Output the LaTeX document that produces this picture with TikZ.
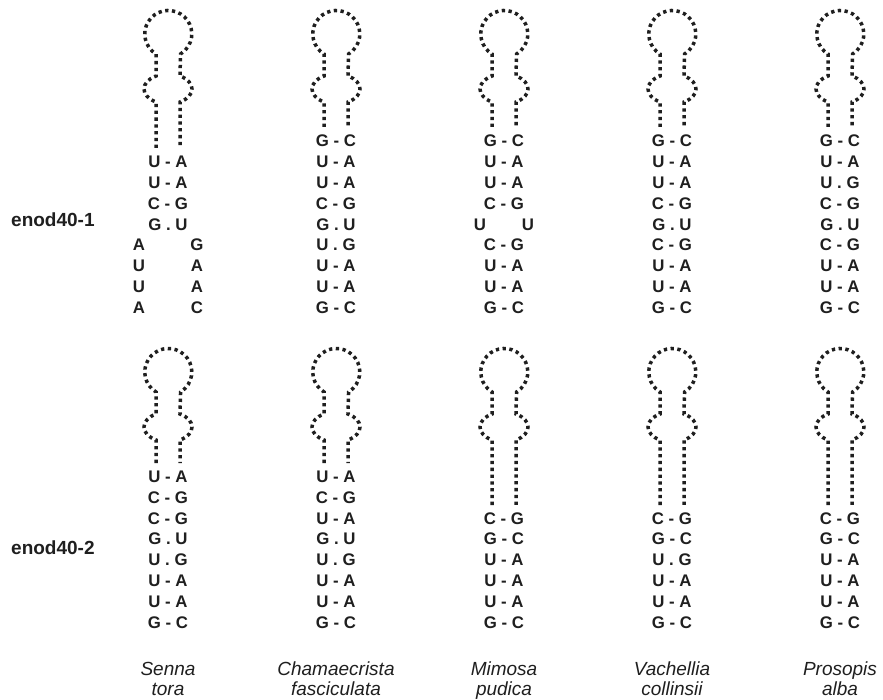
\documentclass[tikz,border=0pt]{standalone}
\usepackage{fontspec}
\setmainfont{Liberation Sans}
\newcommand\hpin[3]{%
  \draw[dotline] (#1-12,#3) -- (#1-12,#2+92)
    .. controls (#1-28,#2+86) and (#1-28,#2+72) .. (#1-12,#2+66)
    -- (#1-12,#2+44) arc[start angle=121.5,end angle=418.5,radius=23.5]
    -- (#1+12,#2+66)
    .. controls (#1+28,#2+72) and (#1+28,#2+86) .. (#1+12,#2+92)
    -- (#1+12,#3);}
\begin{document}
\begin{tikzpicture}[x=1pt,y=-1pt,
  dotline/.style={line width=3.5pt, dash pattern=on 3.3pt off 3.5pt, color=black!88},
  pair/.style={font=\bfseries\fontsize{16.8}{18}\selectfont, text=black!88, inner sep=0pt, text height=12pt, text depth=0pt, anchor=center},
  lab/.style={font=\bfseries\fontsize{19}{20}\selectfont, text=black!88, inner sep=0pt, anchor=west},
  species/.style={font=\itshape\fontsize{19}{20}\selectfont, text=black!88, inner sep=0pt, anchor=base}]
\useasboundingbox (0,0) rectangle (883,700);

% ---------------- enod40-1 ----------------
\node[lab] (lab1) at (11,220) {enod40-1};
\hpin{168}{10}{148}
\hpin{336}{10}{127}
\hpin{504}{10}{127}
\hpin{672}{10}{127}
\hpin{840}{10}{127}

% Senna tora
\foreach \t [count=\k from 1] in {U - A, U - A, C - G, G . U}
  \node[pair] (a1r\k) at (168,141+20.8*\k) {\t};
\node[pair] (a1r5l) at (139,141+20.8*5) {A};
\node[pair] (a1r5r) at (197,141+20.8*5) {G};
\node[pair] (a1r6l) at (139,141+20.8*6) {U};
\node[pair] (a1r6r) at (197,141+20.8*6) {A};
\node[pair] (a1r7l) at (139,141+20.8*7) {U};
\node[pair] (a1r7r) at (197,141+20.8*7) {A};
\node[pair] (a1r8l) at (139,141+20.8*8) {A};
\node[pair] (a1r8r) at (197,141+20.8*8) {C};

% Chamaecrista
\foreach \t [count=\k from 0] in {G - C, U - A, U - A, C - G, G . U, U . G, U - A, U - A, G - C}
  \node[pair] (a2r\k) at (336,141+20.8*\k) {\t};

% Mimosa
\foreach \t [count=\k from 0] in {G - C, U - A, U - A, C - G}
  \node[pair] (a3r\k) at (504,141+20.8*\k) {\t};
\node[pair] (a3r4l) at (480,141+20.8*4) {U};
\node[pair] (a3r4r) at (528,141+20.8*4) {U};
\foreach \t [count=\k from 5] in {C - G, U - A, U - A, G - C}
  \node[pair] (a3r\k) at (504,141+20.8*\k) {\t};

% Vachellia
\foreach \t [count=\k from 0] in {G - C, U - A, U - A, C - G, G . U, C - G, U - A, U - A, G - C}
  \node[pair] (a4r\k) at (672,141+20.8*\k) {\t};

% Prosopis
\foreach \t [count=\k from 0] in {G - C, U - A, U . G, C - G, G . U, C - G, U - A, U - A, G - C}
  \node[pair] (a5r\k) at (840,141+20.8*\k) {\t};

% ---------------- enod40-2 ----------------
\node[lab] (lab2) at (11,548) {enod40-2};
\hpin{168}{348}{463}
\hpin{336}{348}{463}
\hpin{504}{348}{505}
\hpin{672}{348}{505}
\hpin{840}{348}{505}

\foreach \t [count=\k from 1] in {U - A, C - G, C - G, G . U, U . G, U - A, U - A, G - C}
  \node[pair] (b1r\k) at (168,455.6+20.8*\k) {\t};
\foreach \t [count=\k from 1] in {U - A, C - G, U - A, G . U, U . G, U - A, U - A, G - C}
  \node[pair] (b2r\k) at (336,455.6+20.8*\k) {\t};
\foreach \t [count=\k from 3] in {C - G, G - C, U - A, U - A, U - A, G - C}
  \node[pair] (b3r\k) at (504,455.6+20.8*\k) {\t};
\foreach \t [count=\k from 3] in {C - G, G - C, U . G, U - A, U - A, G - C}
  \node[pair] (b4r\k) at (672,455.6+20.8*\k) {\t};
\foreach \t [count=\k from 3] in {C - G, G - C, U - A, U - A, U - A, G - C}
  \node[pair] (b5r\k) at (840,455.6+20.8*\k) {\t};

% ---------------- species ----------------
\node[species] (s1a) at (168,675) {Senna};
\node[species] (s1b) at (168,695) {tora};
\node[species] (s2a) at (336,675) {Chamaecrista};
\node[species] (s2b) at (336,695) {fasciculata};
\node[species] (s3a) at (504,675) {Mimosa};
\node[species] (s3b) at (504,695) {pudica};
\node[species] (s4a) at (672,675) {Vachellia};
\node[species] (s4b) at (672,695) {collinsii};
\node[species] (s5a) at (840,675) {Prosopis};
\node[species] (s5b) at (840,695) {alba};
\end{tikzpicture}
\end{document}
